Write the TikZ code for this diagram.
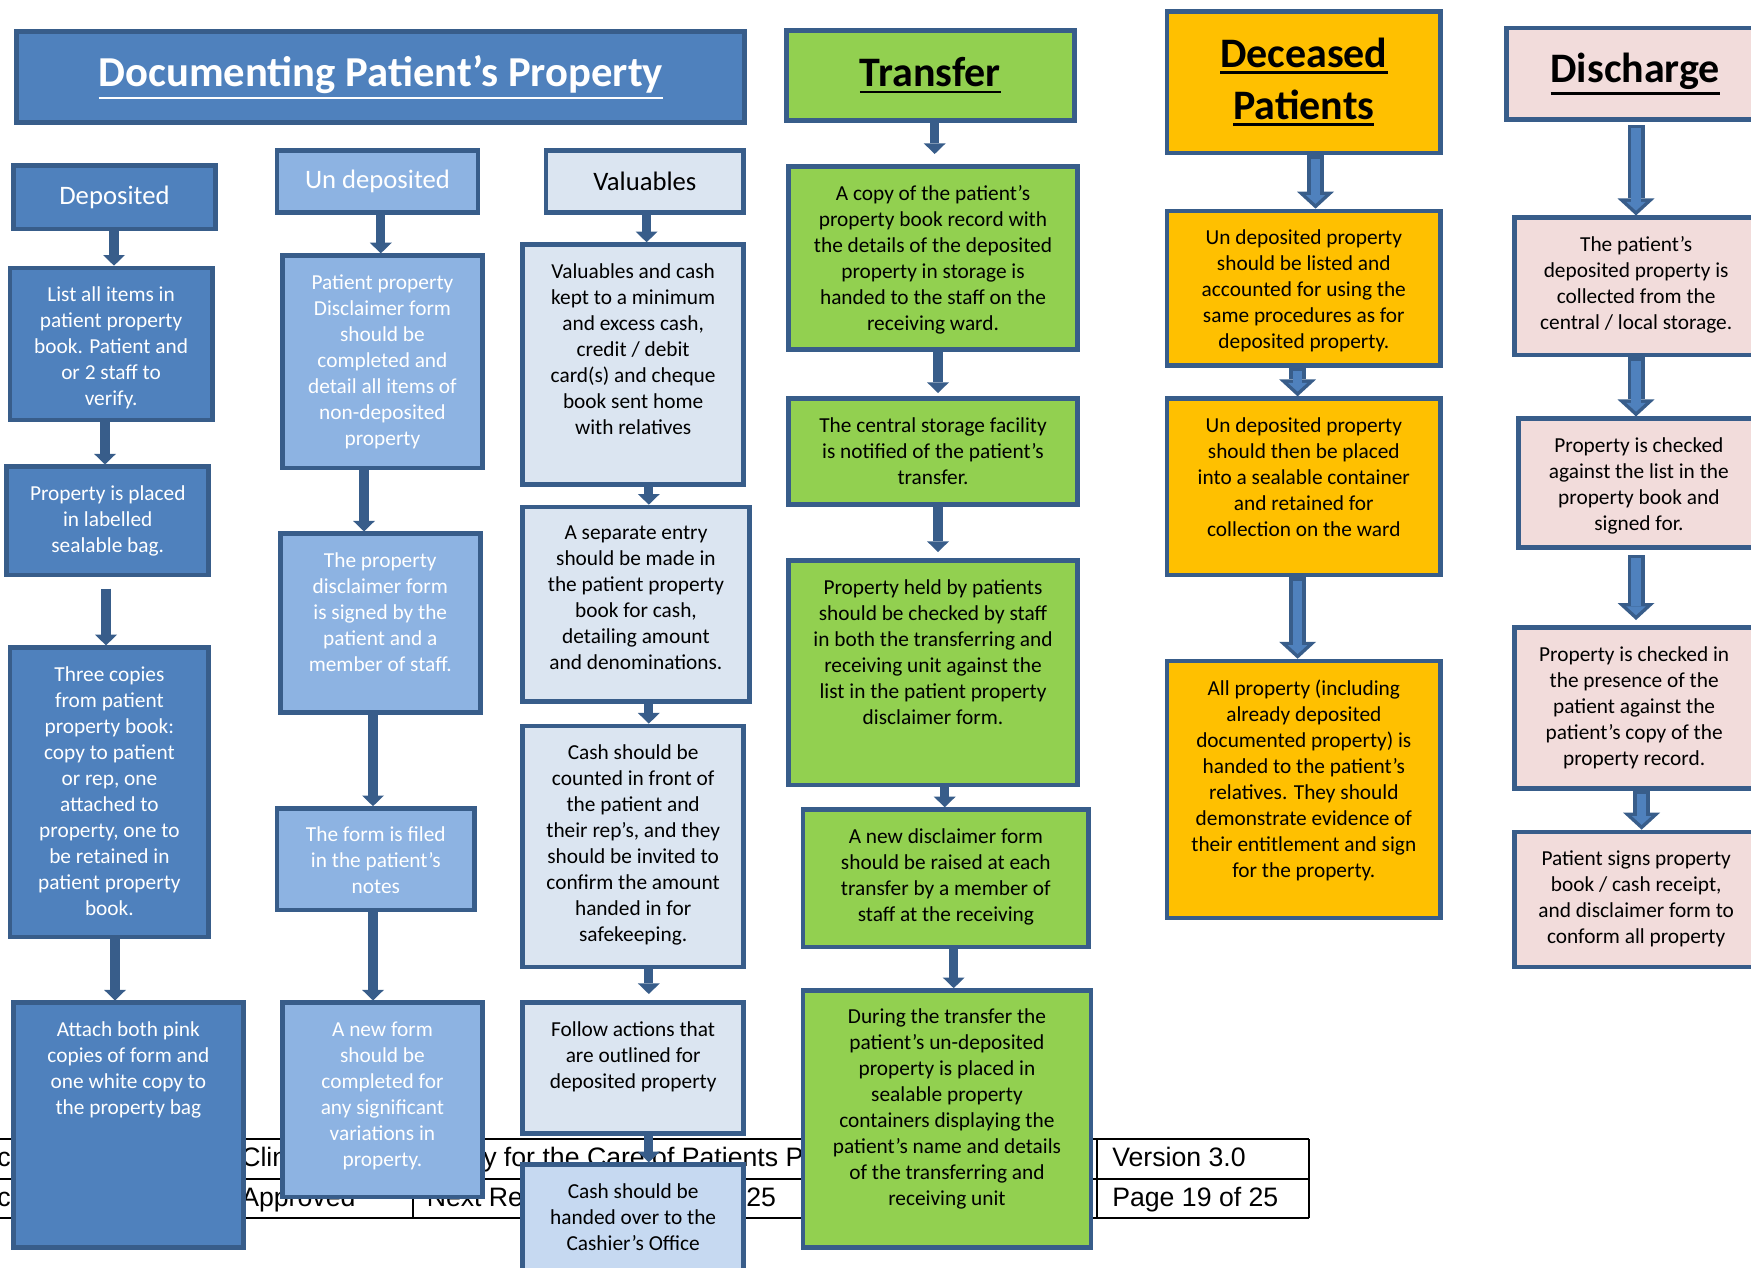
\documentclass[tikz,border=0pt]{standalone}
\usepackage{fontspec}
\setmainfont{Carlito}
\newfontfamily\arialf{Liberation Sans}
\usetikzlibrary{fit,arrows.meta}
\definecolor{bord}{HTML}{385D8A}
\definecolor{blueA}{HTML}{4F81BD}
\definecolor{undB}{HTML}{8DB3E2}
\definecolor{valB}{HTML}{DBE5F1}
\definecolor{valC}{HTML}{C6D9F1}
\definecolor{greenT}{HTML}{92D050}
\definecolor{orangeD}{HTML}{FFC000}
\definecolor{pinkD}{HTML}{F2DCDB}
\newcommand\ul[1]{\leavevmode\vtop{\hbox{#1}\kern2.5pt\hrule height1.8pt}}
\newcommand\tbox[8]{%
  \node[bx=#2, fit={(#4,#5)(#6,#7)}] (#1) {};
  \node[txt, text=#3] (#1t) at ([yshift=-15.5pt]#1.north) {#8};}
\newcommand\hbx[8]{%
  \node[bx=#2, fit={(#4,#5)(#6,#7)}] (#1) {};
  \node[text=#3, align=center, inner sep=0pt] (#1t) at (#1.center) {#8};}
\newcommand\barrow[2]{\draw[bout] #1 -- #2; \draw[bin] #1 -- #2;}
\pgfdeclarelayer{bg}
\pgfsetlayers{bg,main}
\tikzset{
  bx/.style={draw=bord, line width=3.5pt, inner sep=0pt, fill=#1},
  txt/.style={font=\fontsize{16}{19.5}\selectfont, align=center, inner sep=0pt, anchor=north},
  arr/.style={draw=bord, line width=7pt, -{Triangle[width=16.5pt,length=8pt,line width=0pt]}},
  bout/.style={draw=bord, line width=12.75pt, -{Triangle[width=27.75pt,length=12.75pt,line width=0pt]}},
  bin/.style={draw=blueA, line width=7pt, shorten <=2.6pt, shorten >=3.6pt, -{Triangle[width=14.5pt,length=6.6pt,line width=0pt]}},
  tline/.style={line width=1.5pt},
  ttxt/.style={font=\arialf\fontsize{20}{24}\selectfont, inner sep=0pt, anchor=base west}
}
\newcommand\hdrf{\fontsize{20}{24}\selectfont}
\newcommand\bigf{\fontsize{31.5}{39}\selectfont\bfseries}
\begin{document}
\begin{tikzpicture}[x=0.75pt,y=-0.75pt]
\useasboundingbox (0,0) rectangle (1751,1267);

% headers
\hbx{title}{blueA}{white}{16.8}{31.3}{744.8}{122.8}{\fontsize{32}{38}\selectfont\bfseries\ul{Documenting Patient’s Property}}
\hbx{tra}{greenT}{black}{786.2}{30.2}{1074.3}{120.6}{\bigf\ul{Transfer}}
\node[bx=orangeD, fit={(1167,11.2)(1440.6,153)}] (dec) {};
\node[align=center, inner sep=0pt, font=\bigf] (dect) at (dec.center) {\ul{Deceased}\\\ul{Patients}};
\hbx{dis}{pinkD}{black}{1506.4}{27.9}{1764}{119.5}{\bigf\ul{Discharge}}

\hbx{dep}{blueA}{white}{13.4}{165.3}{215.5}{228.9}{\hdrf Deposited}
\hbx{und}{undB}{white}{277}{150.8}{478}{212.2}{\hdrf Un deposited}
\hbx{val}{valB}{black}{546}{150.8}{743.7}{212.2}{\hdrf Valuables}

% column 1
\tbox{c1b1}{blueA}{white}{10}{268}{212.2}{419.9}{List all items in\\patient property\\book. Patient and\\or 2 staff to\\verify.}
\tbox{c1b2}{blueA}{white}{6.7}{466.8}{208.8}{575.1}{Property is placed\\in labelled\\sealable bag.}
\tbox{c1b3}{blueA}{white}{10}{647.7}{208.8}{936.9}{Three copies\\from patient\\property book:\\copy to patient\\or rep, one\\attached to\\property, one to\\be retained in\\patient property\\book.}
\tbox{c1b4}{blueA}{white}{13.4}{1002.8}{243.4}{1247.4}{Attach both pink\\copies of form and\\one white copy to\\the property bag}

% column 2
\tbox{c2b1}{undB}{white}{282.5}{255.7}{482.4}{467.9}{Patient property\\Disclaimer form\\should be\\completed and\\detail all items of\\non-deposited\\property}
\tbox{c2b2}{undB}{white}{280.3}{533.8}{480.2}{712.5}{The property\\disclaimer form\\is signed by the\\patient and a\\member of staff.}
\tbox{c2b3}{undB}{white}{277}{808.5}{474.6}{910.1}{The form is filed\\in the patient’s\\notes}
\tbox{c2b4}{undB}{white}{282.5}{1002.8}{482.4}{1197.1}{A new form\\should be\\completed for\\any significant\\variations in\\property.}

% column 3
\tbox{c3b1}{valB}{black}{522.6}{244.6}{743.7}{484.7}{Valuables and cash\\kept to a minimum\\and excess cash,\\credit / debit\\card(s) and cheque\\book sent home\\with relatives}
\tbox{c3b2}{valB}{black}{522.6}{507}{749.3}{701.3}{A separate entry\\should be made in\\the patient property\\book for cash,\\detailing amount\\and denominations.}
\tbox{c3b3}{valB}{black}{522.6}{725.9}{743.7}{967.1}{Cash should be\\counted in front of\\the patient and\\their rep’s, and they\\should be invited to\\confirm the amount\\handed in for\\safekeeping.}
\tbox{c3b4}{valB}{black}{522.6}{1002.8}{743.7}{1133.5}{Follow actions that\\are outlined for\\deposited property}
\tbox{c3b5}{valC}{black}{522.6}{1164.7}{743.7}{1280}{Cash should be\\handed over to the\\Cashier’s Office}

% column 4
\tbox{c4b1}{greenT}{black}{788.4}{166.4}{1077.6}{349.5}{A copy of the patient’s\\property book record with\\the details of the deposited\\property in storage is\\handed to the staff on the\\receiving ward.}
\tbox{c4b2}{greenT}{black}{788.4}{398.7}{1077.6}{504.8}{The central storage facility\\is notified of the patient’s\\transfer.}
\tbox{c4b3}{greenT}{black}{788.4}{560.6}{1077.6}{785}{Property held by patients\\should be checked by staff\\in both the transferring and\\receiving unit against the\\list in the patient property\\disclaimer form.}
\tbox{c4b4}{greenT}{black}{802.9}{809.6}{1088.8}{947}{A new disclaimer form\\should be raised at each\\transfer by a member of\\staff at the receiving}
\tbox{c4b5}{greenT}{black}{802.9}{990.5}{1091}{1247.4}{During the transfer the\\patient’s un-deposited\\property is placed in\\sealable property\\containers displaying the\\patient’s name and details\\of the transferring and\\receiving unit}

% column 5
\tbox{c5b1}{orangeD}{black}{1167}{211}{1440.6}{365.2}{Un deposited property\\should be listed and\\accounted for using the\\same procedures as for\\deposited property.}
\tbox{c5b2}{orangeD}{black}{1167}{398.7}{1440.6}{575.1}{Un deposited property\\should then be placed\\into a sealable container\\and retained for\\collection on the ward}
\tbox{c5b3}{orangeD}{black}{1167}{661.1}{1440.6}{917.9}{All property (including\\already deposited\\documented property) is\\handed to the patient’s\\relatives. They should\\demonstrate evidence of\\their entitlement and sign\\for the property.}

% column 6
\tbox{c6b1}{pinkD}{black}{1514.3}{217.8}{1758}{355.1}{The patient’s\\deposited property is\\collected from the\\central / local storage.}
\tbox{c6b2}{pinkD}{black}{1518.7}{418.8}{1759}{547.2}{Property is checked\\against the list in the\\property book and\\signed for.}
\tbox{c6b3}{pinkD}{black}{1514.3}{627.6}{1754}{788.4}{Property is checked in\\the presence of the\\patient against the\\patient’s copy of the\\property record.}
\tbox{c6b4}{pinkD}{black}{1514.3}{832}{1758}{967.1}{Patient signs property\\book / cash receipt,\\and disclaimer form to\\conform all property}

% free arrow ends
\coordinate (g1) at (106,588.5);
\coordinate (g3) at (648.8,994);
\coordinate (g4a) at (934.7,154);
\coordinate (g4b) at (938,393);
\coordinate (g4c) at (938,552);
\coordinate (g6a) at (1636,125);
\coordinate (g6b) at (1636,555);
\coordinate (g6c) at (1636,620);

\begin{pgfonlayer}{bg}
% footer table
\draw[tline] (0,1139) -- (1309,1139) (0,1179) -- (1309,1179) (0,1218) -- (1309,1218);
\draw[tline] (1097,1139) -- (1097,1218) (1309,1139) -- (1309,1218) (413,1179) -- (413,1218);
\node[ttxt] (t1) at (-3,1166) {cu};
\node[ttxt] (t2) at (241,1166) {Clin};
\node[ttxt] (t3) at (483,1166) {y for the Care of Patients P};
\node[ttxt] (t4) at (1112,1166) {Version 3.0};
\node[ttxt] (t5) at (-3,1206) {cu};
\node[ttxt] (t6) at (241,1206) {Approved};
\node[ttxt] (t7) at (426.5,1206) {Next Re};
\node[ttxt] (t8) at (746,1206) {25};
\node[ttxt] (t9) at (1112,1206) {Page 19 of 25};

% column 1 arrows
\draw[arr] (dep.south -| 114,0) -- (c1b1.north -| 114,0);
\draw[arr] (c1b1.south -| 105,0) -- (c1b2.north -| 105,0);
\draw[arr] (g1) -- (c1b3.north -| g1);
\draw[arr] (c1b3.south -| 115,0) -- (c1b4.north -| 115,0);
% column 2 arrows
\draw[arr] (und.south -| 380.8,0) -- (c2b1.north -| 380.8,0);
\draw[arr] (c2b1.south -| 364,0) -- (c2b2.north -| 364,0);
\draw[arr] (c2b2.south -| 373,0) -- (c2b3.north -| 373,0);
\draw[arr] (c2b3.south -| 373,0) -- (c2b4.north -| 373,0);
% column 3 arrows
\draw[arr] (val.south -| 646.6,0) -- (c3b1.north -| 646.6,0);
\draw[arr] (c3b1.south -| 648.8,0) -- (c3b2.north -| 648.8,0);
\draw[arr] (c3b2.south -| 648.8,0) -- (c3b3.north -| 648.8,0);
\draw[arr] (c3b3.south -| g3) -- (g3);
\draw[arr] (c3b4.south -| 648.8,0) -- (c3b5.north -| 648.8,0);
% column 4 arrows
\draw[arr] (tra.south -| g4a) -- (g4a);
\draw[arr] (c4b1.south -| g4b) -- (g4b);
\draw[arr] (c4b2.south -| g4c) -- (g4c);
\draw[arr] (c4b3.south -| 944.7,0) -- (c4b4.north -| 944.7,0);
\draw[arr] (c4b4.south -| 953.7,0) -- (c4b5.north -| 953.7,0);
% column 5 block arrows
\barrow{(dec.south -| 1315.5,0)}{(c5b1.north -| 1315.5,0)}
\barrow{(c5b1.south -| 1297.6,0)}{(c5b2.north -| 1297.6,0)}
\barrow{(c5b2.south -| 1297.6,0)}{(c5b3.north -| 1297.6,0)}
% column 6 block arrows
\barrow{(g6a)}{(c6b1.north -| g6a)}
\barrow{(c6b1.south -| 1636,0)}{(c6b2.north -| 1636,0)}
\barrow{(g6b)}{(g6c)}
\barrow{(c6b3.south -| 1641.6,0)}{(c6b4.north -| 1641.6,0)}
\end{pgfonlayer}
\end{tikzpicture}
\end{document}
